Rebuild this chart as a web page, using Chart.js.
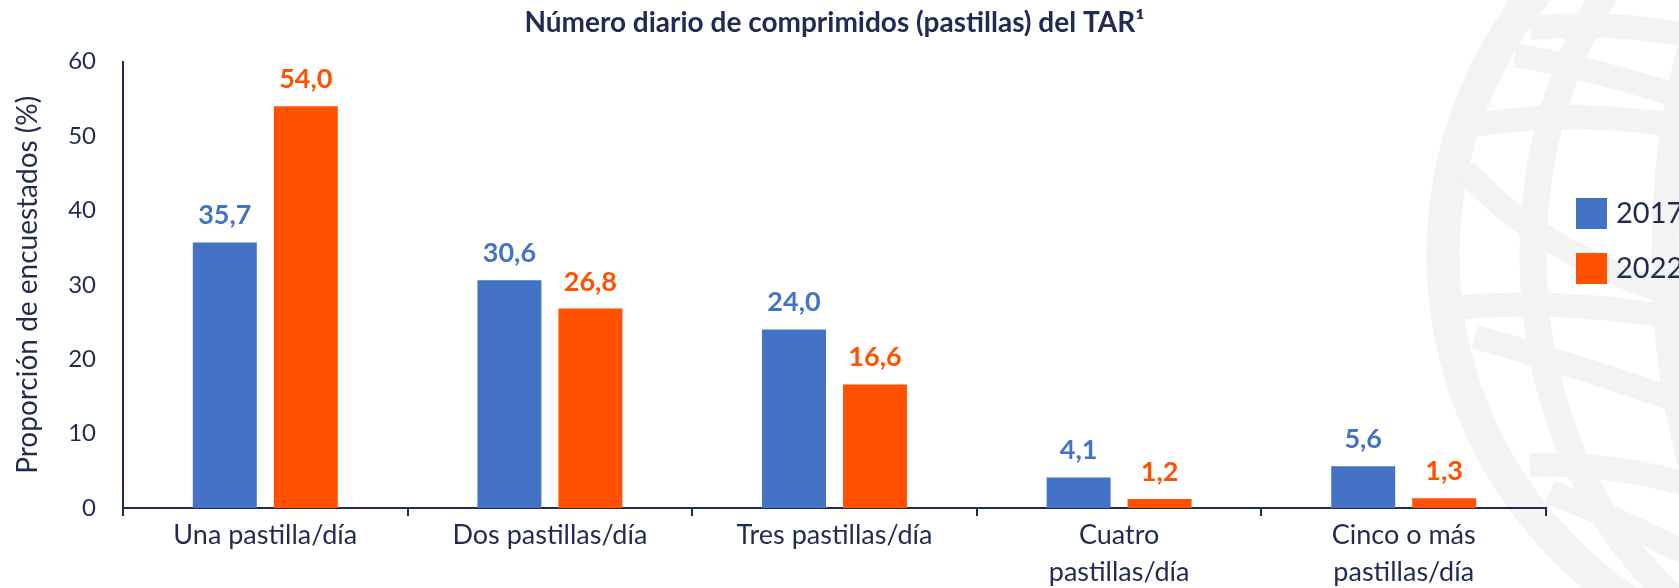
<!DOCTYPE html>
<html lang="es">
<head>
    <meta charset="UTF-8">
    <title>Número diario de comprimidos (pastillas) del TAR</title>
    <script src="https://cdn.jsdelivr.net/npm/chart.js"></script>
    <style>
        html, body { margin: 0; padding: 0; background: #fff; }
        #grafico { display: block; }
    </style>
</head>
<body>
    <canvas id="grafico" width="1679" height="588"></canvas>

    <script>
        // Datos
        const categorias = [
            'Una pastilla/día',
            'Dos pastillas/día',
            'Tres pastillas/día',
            ['Cuatro', 'pastillas/día'],
            ['Cinco o más', 'pastillas/día']
        ];
        const series = ['2017', '2022'];
        const valores2017 = [35.7, 30.6, 24.0, 4.1, 5.6];
        const valores2022 = [54.0, 26.8, 16.6, 1.2, 1.3];
        const ticksY = [0, 10, 20, 30, 40, 50, 60];

        const AZUL = '#4472C4';
        const NARANJA = '#FF5100';
        const TEXTO = '#1f2b50';
        const FUENTE = "Lato, 'Open Sans', sans-serif";

        // globo gris de fondo (marca de agua)
        const marcaAgua = {
            id: 'marcaAgua',
            beforeDraw(chart) {
                const ctx = chart.ctx;
                const cx = 1860, cy = 255, r = 417;
                ctx.save();
                ctx.strokeStyle = '#f3f3f3';
                ctx.lineCap = 'butt';

                ctx.lineWidth = 33;
                ctx.beginPath();
                ctx.arc(cx, cy, r, 0, Math.PI * 2);
                ctx.stroke();

                ctx.beginPath();
                ctx.arc(cx, cy, r, 0, Math.PI * 2);
                ctx.clip();

                ctx.lineWidth = 27;
                ctx.beginPath();
                ctx.ellipse(cx, cy, 327, r, 0, 0, Math.PI * 2);
                ctx.stroke();
                ctx.beginPath();
                ctx.ellipse(cx, cy, 195, r, 0, 0, Math.PI * 2);
                ctx.stroke();

                ctx.lineWidth = 24;
                const curvas = [
                    [1530, 28, 1610, 20, 1690, 36],
                    [1515, 55, 1600, 70, 1690, 100],
                    [1475, 125, 1580, 108, 1690, 128],
                    [1465, 170, 1540, 255, 1690, 300],
                    [1460, 307, 1570, 298, 1690, 320],
                    [1475, 337, 1560, 360, 1690, 405],
                    [1530, 465, 1610, 462, 1690, 485],
                    [1550, 492, 1620, 520, 1690, 555]
                ];
                curvas.forEach(c => {
                    ctx.beginPath();
                    ctx.moveTo(c[0], c[1]);
                    ctx.quadraticCurveTo(c[2], c[3], c[4], c[5]);
                    ctx.stroke();
                });
                ctx.restore();
            }
        };

        // etiquetas de valor encima de cada barra
        const etiquetas = {
            id: 'etiquetas',
            afterDatasetsDraw(chart) {
                const ctx = chart.ctx;
                ctx.save();
                ctx.font = 'bold 27px ' + FUENTE;
                ctx.textAlign = 'center';
                ctx.textBaseline = 'alphabetic';
                chart.data.datasets.forEach((ds, i) => {
                    const meta = chart.getDatasetMeta(i);
                    ctx.fillStyle = ds.backgroundColor;
                    meta.data.forEach((bar, j) => {
                        const txt = ds.data[j].toFixed(1).replace('.', ',');
                        ctx.fillText(txt, bar.x, bar.y - 18);
                    });
                });
                ctx.restore();
            }
        };

        // leyenda a la derecha
        const leyenda = {
            id: 'leyenda',
            afterDraw(chart) {
                const ctx = chart.ctx;
                ctx.save();
                ctx.font = '29px ' + FUENTE;
                ctx.textBaseline = 'middle';
                ctx.textAlign = 'left';
                chart.data.datasets.forEach((ds, i) => {
                    const y = 198 + i * 55;
                    ctx.fillStyle = ds.backgroundColor;
                    ctx.fillRect(1576, y, 31, 31);
                    ctx.fillStyle = TEXTO;
                    ctx.fillText(ds.label, 1616, y + 16);
                });
                ctx.restore();
            }
        };

        new Chart(document.getElementById('grafico'), {
            type: 'bar',
            data: {
                labels: categorias,
                datasets: [
                    { label: series[0], data: valores2017, backgroundColor: AZUL },
                    { label: series[1], data: valores2022, backgroundColor: NARANJA }
                ]
            },
            options: {
                responsive: false,
                animation: false,
                devicePixelRatio: 1,
                categoryPercentage: 0.569,
                barPercentage: 0.79,
                layout: { padding: { left: 0, right: 133, top: 0, bottom: 0 } },
                plugins: {
                    legend: { display: false },
                    tooltip: { enabled: false },
                    title: {
                        display: true,
                        fullSize: false,
                        text: 'Número diario de comprimidos (pastillas) del TAR¹',
                        color: TEXTO,
                        font: { family: FUENTE, size: 28, weight: 'bold', lineHeight: 1.2 },
                        padding: { top: 6, bottom: 22 }
                    }
                },
                scales: {
                    x: {
                        afterFit(scale) { scale.height = 80; },
                        grid: {
                            display: true,
                            drawOnChartArea: false,
                            drawTicks: true,
                            tickLength: 8,
                            color: TEXTO,
                            lineWidth: 2
                        },
                        border: { display: true, color: TEXTO, width: 2 },
                        ticks: {
                            color: TEXTO,
                            padding: 0,
                            maxRotation: 0,
                            autoSkip: false,
                            font: { family: FUENTE, size: 27, lineHeight: 1.4 }
                        }
                    },
                    y: {
                        min: 0,
                        max: 60,
                        afterFit(scale) { scale.width = 123; },
                        afterBuildTicks(scale) { scale.ticks = ticksY.map(v => ({ value: v })); },
                        grid: { display: false, drawTicks: false },
                        border: { display: true, color: TEXTO, width: 2 },
                        ticks: {
                            color: TEXTO,
                            padding: 27,
                            font: { family: FUENTE, size: 24 }
                        },
                        title: {
                            display: true,
                            text: 'Proporción de encuestados (%)',
                            color: TEXTO,
                            font: { family: FUENTE, size: 28, lineHeight: 1.2 },
                            padding: { top: 11, bottom: 0 }
                        }
                    }
                }
            },
            plugins: [marcaAgua, etiquetas, leyenda]
        });
    </script>
</body>
</html>
